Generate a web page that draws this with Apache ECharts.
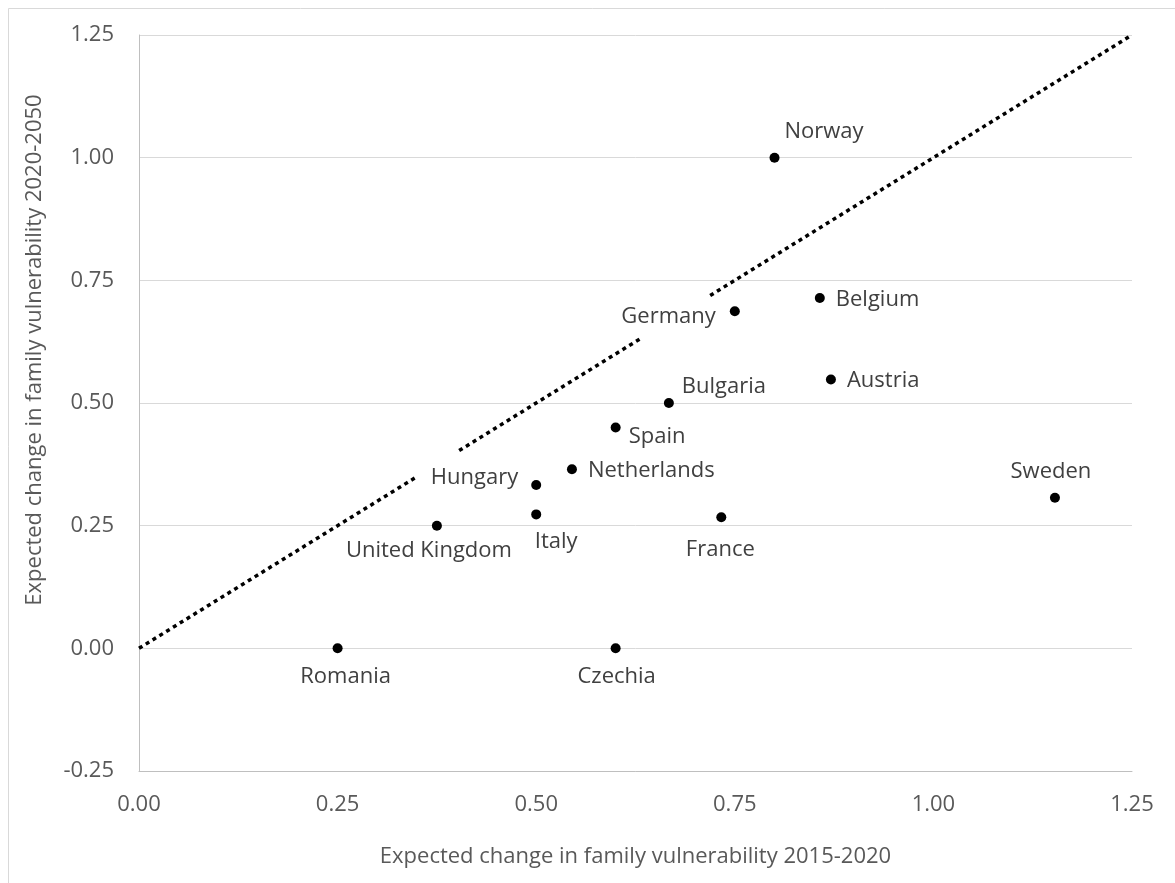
<!DOCTYPE html>
<html>
<head>
<meta charset="utf-8">
<script src="https://cdn.jsdelivr.net/npm/echarts@6/dist/echarts.min.js"></script>
<style>
html,body{margin:0;padding:0;background:#fff;}
#chart{width:1175px;height:883px;}
</style>
</head>
<body>
<div id="chart"></div>
<script>
// ---- Data ----
const countries = ["Norway","Belgium","Germany","Austria","Bulgaria","Spain","Netherlands","Hungary","Italy","United Kingdom","France","Sweden","Romania","Czechia"];
const change2015_2020 = [0.800, 0.857, 0.750, 0.871, 0.667, 0.600, 0.545, 0.500, 0.500, 0.375, 0.733, 1.153, 0.250, 0.600];
const change2020_2050 = [1.000, 0.714, 0.687, 0.548, 0.500, 0.450, 0.365, 0.333, 0.273, 0.250, 0.267, 0.307, 0.000, 0.000];
// Diagonal reference line y = x, drawn in segments (gaps as in original)
const diagonalSegments = [[0, 0.347], [0.403, 0.632], [0.719, 1.25]];
const xTicks = [0, 0.25, 0.5, 0.75, 1.0, 1.25];
const yTicks = [-0.25, 0, 0.25, 0.5, 0.75, 1.0, 1.25];
const xTitle = "Expected change in family vulnerability 2015-2020";
const yTitle = "Expected change in family vulnerability 2020-2050";

// ---- Label layout (style) ----
const labelLayout = {
  "Norway":        {align:"left",   dx: 10, dy:-26},
  "Belgium":       {align:"left",   dx: 16, dy:  2},
  "Austria":       {align:"left",   dx: 16, dy:  1},
  "Germany":       {align:"right",  dx:-19, dy:  5},
  "Bulgaria":      {align:"left",   dx: 13, dy:-16},
  "Spain":         {align:"left",   dx: 13, dy:  9},
  "Netherlands":   {align:"left",   dx: 16, dy:  1},
  "Hungary":       {align:"right",  dx:-18, dy: -7},
  "Italy":         {align:"center", dx: 20, dy: 27},
  "United Kingdom":{align:"center", dx: -8, dy: 25},
  "France":        {align:"center", dx: -1, dy: 32},
  "Sweden":        {align:"center", dx: -4, dy:-26},
  "Romania":       {align:"center", dx:  8, dy: 28},
  "Czechia":       {align:"center", dx:  1, dy: 28}
};

const FONT = "'Open Sans', 'Noto Sans', sans-serif";
const SYM = 10;

const points = countries.map((c, i) => {
  const l = labelLayout[c];
  return {
    name: c,
    value: [change2015_2020[i], change2020_2050[i]],
    label: {
      show: true,
      formatter: c,
      position: [SYM/2 + l.dx, SYM/2 + l.dy],
      align: l.align,
      verticalAlign: "middle",
      color: "#404040",
      fontFamily: FONT,
      fontSize: 22
    }
  };
});

const lineSeries = diagonalSegments.map(s => ({
  type: "line",
  data: [[s[0], s[0]], [s[1], s[1]]],
  symbol: "none",
  silent: true,
  z: 1,
  lineStyle: {color: "#000", width: 3.5, type: [4, 4], cap: "butt", opacity: 1}
}));

const chart = echarts.init(document.getElementById("chart"), null, {renderer: "canvas"});
chart.setOption({
  animation: false,
  backgroundColor: "#fff",
  graphic: [{
    type: "rect",
    shape: {x: 8.5, y: 8.5, width: 1200, height: 900},
    style: {fill: "none", stroke: "#d9d9d9", lineWidth: 1},
    silent: true, z: -10
  }, {
    type: "text",
    x: 35, y: 350,
    rotation: Math.PI / 2,
    style: {
      text: yTitle, fill: "#595959", font: "22px " + FONT,
      align: "center", verticalAlign: "middle"
    },
    silent: true
  }],
  grid: {left: 139, right: 43, top: 35, bottom: 112, containLabel: false},
  xAxis: {
    type: "value",
    min: 0, max: 1.25, interval: 0.25,
    name: xTitle,
    nameLocation: "middle",
    nameGap: 75,
    nameTextStyle: {color: "#595959", fontFamily: FONT, fontSize: 22},
    axisLine: {show: true, onZero: false, lineStyle: {color: "#bfbfbf", width: 1}},
    axisTick: {show: false},
    splitLine: {show: false},
    axisLabel: {
      color: "#595959", fontFamily: FONT, fontSize: 22, margin: 23,
      formatter: v => v.toFixed(2)
    }
  },
  yAxis: {
    type: "value",
    min: -0.25, max: 1.25, interval: 0.25,
    axisLine: {show: true, onZero: false, lineStyle: {color: "#bfbfbf", width: 1}},
    axisTick: {show: false},
    splitLine: {show: true, lineStyle: {color: "#d9d9d9", width: 1}},
    axisLabel: {
      color: "#595959", fontFamily: FONT, fontSize: 22, margin: 25,
      formatter: v => v.toFixed(2)
    }
  },
  series: lineSeries.concat([{
    type: "scatter",
    symbol: "circle",
    symbolSize: SYM,
    itemStyle: {color: "#000", opacity: 1},
    z: 3,
    data: points
  }])
});
</script>
</body>
</html>
